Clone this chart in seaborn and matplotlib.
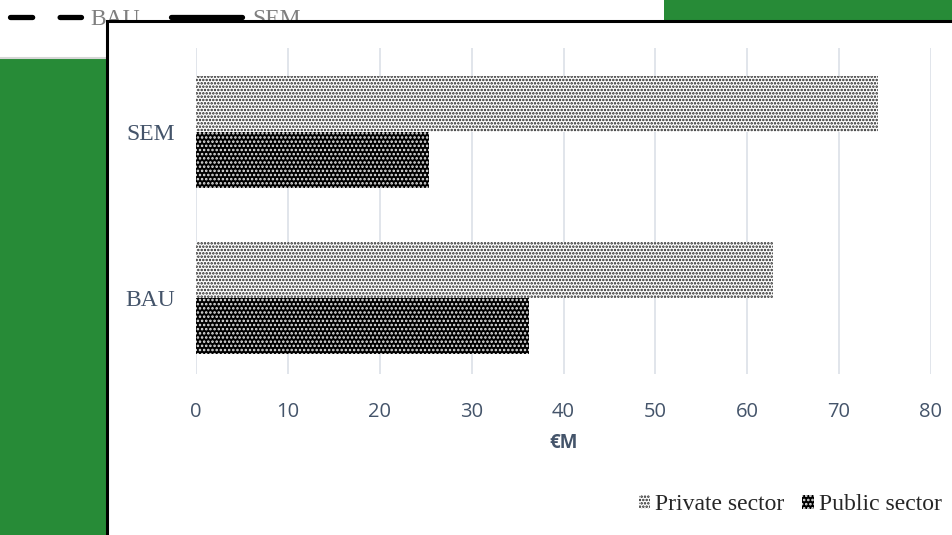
import pandas as pd
import matplotlib.pyplot as plt
import seaborn as sns
from matplotlib.lines import Line2D
from matplotlib.patches import Rectangle

# Data (values in €M)
scenarios = ['SEM', 'BAU']
private_sector = [74.2, 62.8]
public_sector = [25.4, 36.2]
sectors = ['Private sector', 'Public sector']
x_ticks = [0, 10, 20, 30, 40, 50, 60, 70, 80]

df = pd.DataFrame({
    'Scenario': scenarios * 2,
    'Sector': [sectors[0]] * 2 + [sectors[1]] * 2,
    'Value': private_sector + public_sector,
})

sns.set_theme(style='white')
plt.rcParams['hatch.linewidth'] = 1.2

W, H = 953, 535
fig = plt.figure(figsize=(W / 100, H / 100), dpi=100, facecolor='#278B37')

# white strip at top with the line-chart legend peeking out
strip = Rectangle((0, 1 - 57 / H), 664 / W, 57 / H, transform=fig.transFigure,
                  facecolor='white', edgecolor='none', zorder=0.5)
fig.patches.append(strip)
fig.add_artist(Line2D([0, 664 / W], [1 - 57.5 / H] * 2, color='#D6D6D6', lw=1.5, zorder=0.6))

line_handles = [
    Line2D([], [], color='black', lw=3.8, dashes=(4.2, 5.2), dash_capstyle='round'),
    Line2D([], [], color='black', lw=3.8, solid_capstyle='round'),
]
top_leg = fig.legend(line_handles, ['BAU', 'SEM'], loc='center left',
                     bbox_to_anchor=(10 / W, 1 - 19 / H), ncol=2, frameon=False,
                     borderpad=0, borderaxespad=0, handlelength=3.0, handletextpad=0.42,
                     columnspacing=1.3, prop={'family': 'Liberation Serif', 'size': 17})
for t in top_leg.get_texts():
    t.set_color('#7F7F7F')
top_leg.set_zorder(1)

# chart panel in front
panel = Rectangle((107 / W, -0.1), 1.0, 1.1 - 21 / H, transform=fig.transFigure,
                  facecolor='white', edgecolor='black', lw=2.2, zorder=2)
fig.patches.append(panel)

ax = fig.add_axes([196 / W, 1 - 374 / H, (931 - 196) / W, (374 - 48) / H])
ax.set_zorder(3)
ax.patch.set_visible(False)

sns.barplot(data=df, y='Scenario', x='Value', hue='Sector', orient='h',
            width=0.675, dodge=True, ax=ax, legend=False)

styles = [dict(facecolor='white', edgecolor='#1E1E1E', hatch='.....'),
          dict(facecolor='black', edgecolor='#E8E8E8', hatch='....')]
for cont, st in zip(ax.containers, styles):
    for bar in cont:
        bar.set_facecolor(st['facecolor'])
        bar.set_edgecolor(st['edgecolor'])
        bar.set_hatch(st['hatch'])
        bar.set_linewidth(0)

ax.set_xlim(0, 80)
ax.set_ylim(1.458, -0.506)
ax.set_xticks(x_ticks)
ax.grid(axis='x', color='#DCE0E7', lw=1.2)
ax.set_axisbelow(True)
for s in ax.spines.values():
    s.set_visible(False)
ax.tick_params(axis='both', length=0)
ax.tick_params(axis='x', pad=20)
ax.tick_params(axis='y', pad=15)
for lab in ax.get_xticklabels():
    lab.set_fontfamily('Open Sans')
    lab.set_fontsize(14.5)
    lab.set_color('#44546A')
for lab in ax.get_yticklabels():
    lab.set_fontfamily('Liberation Serif')
    lab.set_fontsize(17)
    lab.set_color('#44546A')
ax.set_ylabel('')
ax.set_xlabel('€M', fontfamily='Open Sans', fontsize=13.5, fontweight='bold',
              color='#44546A', labelpad=8)

bar_handles = [Rectangle((0, 0), 1, 1, lw=0, **styles[0]),
               Rectangle((0, 0), 1, 1, lw=0, **styles[1])]
ax.legend(bar_handles, sectors, loc='center', bbox_to_anchor=(790 / W, 1 - 505 / H),
          bbox_transform=fig.transFigure, ncol=2, frameon=False,
          handlelength=0.5, handleheight=0.5, handletextpad=0.2, columnspacing=0.75,
          prop={'family': 'Liberation Serif', 'size': 17})

fig.savefig('out.png', dpi=100, facecolor=fig.get_facecolor())
